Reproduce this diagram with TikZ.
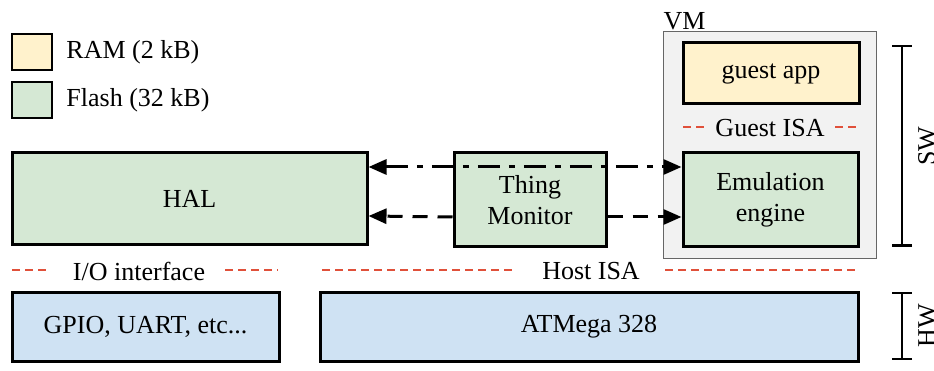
\documentclass[tikz,border=0pt]{standalone}
\usepackage{fontspec}
\setmainfont{Liberation Serif}
\newfontfamily\diagfont{Liberation Serif}
\usetikzlibrary{arrows.meta,positioning}

\definecolor{ramfill}{HTML}{FFF2CC}
\definecolor{flashfill}{HTML}{D5E8D4}
\definecolor{hwfill}{HTML}{CFE2F3}
\definecolor{vmfill}{HTML}{F2F2F2}
\definecolor{isared}{HTML}{E0503A}

\begin{document}
\begin{tikzpicture}[x=1pt,y=-1pt,font=\diagfont\fontsize{26}{31}\selectfont]

\tikzset{block/.style={draw=black,line width=3pt,inner sep=0pt,shape=rectangle,align=center},
ram/.style={block,fill=ramfill},
flash/.style={block,fill=flashfill},
hw/.style={block,fill=hwfill},
legend/.style={draw=black,line width=1.8pt,inner sep=0pt,minimum width=40pt,minimum height=36pt},
isa/.style={draw=isared,line width=1.4pt,dash pattern=on 8pt off 5pt},
calls/.style={line width=3pt,dash pattern=on 22pt off 9pt on 6pt off 9pt,{Triangle[length=18pt,width=15pt]}-{Triangle[length=18pt,width=15pt]}},
replies/.style={line width=3pt,dash pattern=on 15pt off 10pt,-{Triangle[length=18pt,width=15pt]}},
span/.style={line width=2.5pt,{Bar[width=20pt]}-{Bar[width=20pt]}}}

\useasboundingbox (0,0) rectangle (934,371);

% Legend
\node (kram) [legend,fill=ramfill] at (32,52) {};
\node (tram) [right=10pt of kram] {RAM (2 kB)};
\node (kflash) [legend,fill=flashfill] at (32,100) {};
\node (tflash) [right=10pt of kflash] {Flash (32 kB)};

% Virtual machine
\node (vm) [draw=black!60,line width=1pt,fill=vmfill,minimum width=213pt,minimum height=227pt] at (769.5,145.5) {};
\node (vmlabel) [anchor=south west,inner sep=1pt] at (vm.north west) {VM};
\node (guest) [ram,minimum width=176pt,minimum height=61pt] at (771,73.5) {guest app};
\node (emul) [flash,minimum width=175pt,minimum height=94pt] at (770.5,200) {Emulation\\engine};
\node (gisa) at (770,128) {Guest ISA};

% Software blocks
\node (hal) [flash,minimum width=355pt,minimum height=92pt] at (189.5,199) {HAL};
\node (monitor) [flash,minimum width=152pt,minimum height=94pt] at (530,200) {Thing\\Monitor};

% Hardware blocks
\node (gpio) [hw,minimum width=267pt,minimum height=68pt] at (145.5,327) {GPIO, UART, etc...};
\node (atmega) [hw,minimum width=538pt,minimum height=68pt] at (589,327) {ATMega 328};

% Interfaces
\node (io) at (139,271) {I/O interface};
\node (host) at (591,271) {Host ISA};
\coordinate (io1) at (12,270);
\coordinate (io2) at (50,270);
\coordinate (io3) at (225,270);
\coordinate (io4) at (278,270);
\coordinate (host1) at (322,270);
\coordinate (host2) at (515,270);
\coordinate (host3) at (665,270);
\coordinate (host4) at (858,270);
\coordinate (g1) at (683,127);
\coordinate (g2) at (707,127);
\coordinate (g3) at (835,127);
\coordinate (g4) at (859,127);
\draw [isa] (io1) -- (io2);
\draw [isa] (io3) -- (io4);
\draw [isa] (host1) -- (host2);
\draw [isa] (host3) -- (host4);
\draw [isa] (g1) -- (g2);
\draw [isa] (g3) -- (g4);

% Arrows between HAL, monitor and engine
\draw [calls] ([yshift=32pt]hal.east) -- ([yshift=33pt]emul.west);
\draw [replies] ([yshift=-17pt]monitor.west) -- ([yshift=-17pt]hal.east);
\draw [replies] ([yshift=-17pt]monitor.east) -- ([yshift=-17pt]emul.west);

% SW / HW brackets
\coordinate (sw1) at (902,45);
\coordinate (sw2) at (902,247);
\coordinate (hw1) at (902,292);
\coordinate (hw2) at (902,360);
\draw [span] (sw1) -- (sw2);
\draw [span] (hw1) -- (hw2);
\node (sw) [rotate=90] at (927,146) {SW};
\node (hwl) [rotate=90] at (927,326) {HW};

\end{tikzpicture}
\end{document}
